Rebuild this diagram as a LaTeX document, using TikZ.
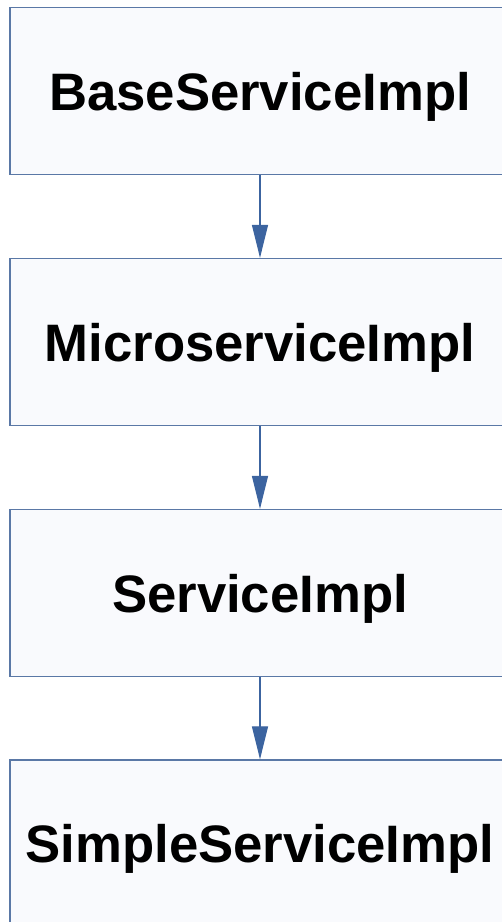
\documentclass[tikz,border=0pt]{standalone}
\usepackage{fontspec}
\setmainfont{Liberation Sans}
\usetikzlibrary{arrows.meta}
\definecolor{boxfill}{HTML}{F9FAFD}
\definecolor{boxline}{HTML}{5A78A6}
\definecolor{arrowblue}{HTML}{3C64A0}
\begin{document}
\begin{tikzpicture}[x=1pt,y=-1pt,
  classbox/.style={draw=boxline,line width=1.3pt,fill=boxfill,minimum width=500pt,minimum height=167pt,inner sep=0pt,text depth=0pt,font=\fontsize{52.7}{60}\selectfont\bfseries},
  inherit/.style={draw=arrowblue,line width=1.2pt,-{Triangle[length=33pt,width=16pt]}}]
  \useasboundingbox (0,0) rectangle (502,922);
  \begin{scope}
    \clip (0,0) rectangle (502,922);
    \node[classbox] (base) at (260,91) {BaseServiceImpl};
    \node[classbox] (micro) at (260,342) {MicroserviceImpl};
    \node[classbox] (svc) at (260,593) {ServiceImpl};
    \node[classbox] (simple) at (260,843.5) {SimpleServiceImpl};
    \draw[inherit] (base) -- (micro);
    \draw[inherit] (micro) -- (svc);
    \draw[inherit] (svc) -- (simple);
  \end{scope}
\end{tikzpicture}
\end{document}
